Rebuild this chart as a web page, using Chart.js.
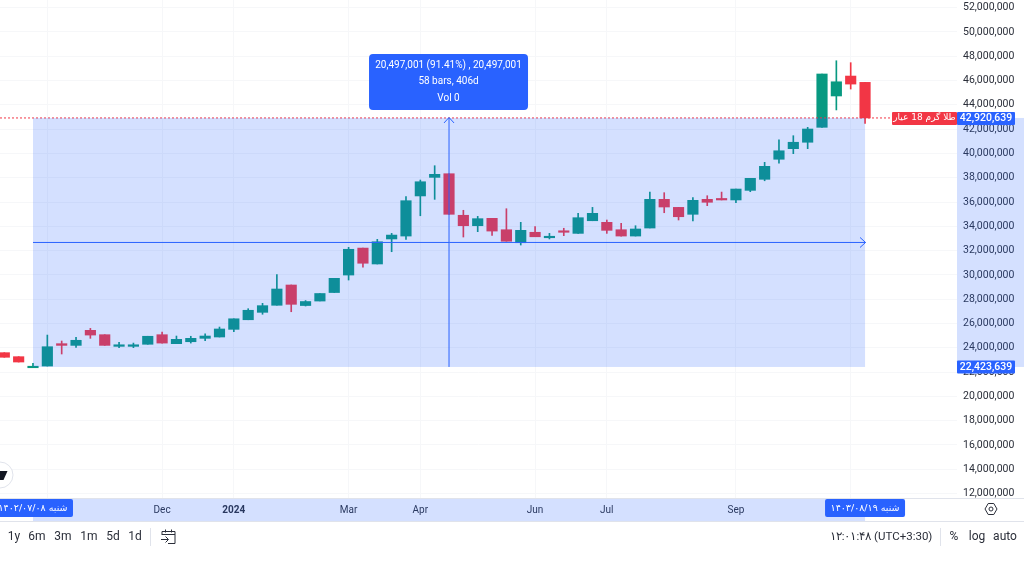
<!DOCTYPE html>
<html lang="fa">
<head>
<meta charset="utf-8">
<title>طلا گرم 18 عیار</title>
<script src="https://cdn.jsdelivr.net/npm/chart.js@4"></script>
<style>
html,body{margin:0;padding:0;background:#fff;width:1024px;height:576px;overflow:hidden}
canvas{position:absolute;left:0;top:0}
.t{position:absolute;top:529px;font:12px/15px Roboto,sans-serif;color:#2a2e39;transform:translateX(-50%);white-space:nowrap}
.d{position:absolute;width:1px;background:#e0e3eb}
svg{position:absolute}
</style>
</head>
<body>
<canvas id="c" width="1024" height="576"></canvas>
<span class="t" style="left:14px">1y</span>
<span class="t" style="left:37px">6m</span>
<span class="t" style="left:63px">3m</span>
<span class="t" style="left:89px">1m</span>
<span class="t" style="left:113px">5d</span>
<span class="t" style="left:135px">1d</span>
<div class="d" style="left:150px;top:528px;height:18px"></div>
<svg style="left:160px;top:528px" width="17" height="17" viewBox="0 0 17 17" fill="none" stroke="#2a2e39" stroke-width="1"><path d="M2 7V3.5h13V15.5H8M2 6.5h13M5.5 1.5v3M11.5 1.5v3M1 11.5h7M5.5 8.5l3 3-3 3"/></svg>
<span class="t" style="left:881px;font-size:11.5px" dir="ltr">۱۲:۰۱:۴۸ (UTC+3:30)</span>
<div class="d" style="left:940px;top:528px;height:18px"></div>
<span class="t" style="left:954px">%</span>
<span class="t" style="left:977px">log</span>
<span class="t" style="left:1005px">auto</span>
<svg style="left:984px;top:502px" width="14" height="14" viewBox="0 0 14 14" fill="none" stroke="#2a2e39" stroke-width="1"><path d="M4.2 1.5h5.6L13 7l-3.2 5.5H4.2L1 7z" stroke-linejoin="round"/><circle cx="7" cy="7" r="2"/></svg>
<script>
const opens  = [23600000,23270000,22360000,22500000,24340000,24200000,25440000,25080000,24120000,24120000,24290000,25080000,24340000,24500000,24780000,24890000,25520000,26310000,26920000,27500000,29170000,27480000,27850000,28550000,29990000,32210000,30900000,32960000,33200000,36500000,38030000,38330000,34910000,34050000,34660000,33720000,32650000,33510000,33060000,33590000,33420000,34460000,34330000,33720000,33200000,33860000,36220000,35560000,34990000,36220000,36220000,36170000,36960000,37870000,39520000,40390000,40920000,42150000,44730000,46370000,45850000];
const highs  = [23600000,23270000,22720000,25050000,24560000,24860000,25600000,25080000,24450000,24390000,24950000,25300000,24970000,24950000,25160000,25710000,26390000,27220000,27660000,30030000,29170000,27890000,28470000,29720000,32270000,32210000,32930000,33420000,36440000,37810000,38990000,38330000,35320000,34820000,34660000,35450000,34330000,33970000,33420000,33840000,35070000,35560000,34520000,34250000,34050000,36820000,36770000,35560000,36360000,36520000,36820000,37070000,37950000,39270000,41110000,41460000,42150000,46540000,47630000,47470000,45850000];
const lows   = [23220000,22830000,22360000,22500000,23490000,24040000,24780000,24200000,24020000,24010000,24290000,24390000,24340000,24390000,24580000,24890000,25320000,26310000,26760000,27500000,26970000,27440000,27850000,28550000,29580000,30630000,30900000,31910000,32930000,34870000,36220000,34990000,33120000,33560000,33260000,32770000,32460000,33140000,32960000,33230000,33420000,34460000,33420000,33200000,33200000,33860000,35120000,34520000,34440000,35700000,36170000,35940000,36850000,37750000,39190000,39980000,40390000,42150000,43580000,45300000,42480000];
const closes = [23220000,22830000,22420000,24090000,24200000,24620000,25050000,24200000,24250000,24250000,24950000,24390000,24700000,24780000,24970000,25550000,26390000,27090000,27470000,28840000,27580000,27810000,28470000,29720000,32110000,30960000,32730000,33280000,36110000,37670000,38280000,34990000,34050000,34630000,33610000,32770000,33670000,33140000,33140000,33510000,34710000,35070000,33670000,33200000,33780000,36220000,35590000,34790000,36140000,35980000,36170000,37070000,37950000,38940000,40220000,40920000,42010000,46540000,45900000,45710000,42920639];
const priceTicks = [12000000,14000000,16000000,18000000,20000000,22000000,24000000,26000000,28000000,30000000,32000000,34000000,36000000,38000000,40000000,42000000,44000000,46000000,48000000,50000000,52000000];
const timeTickBars = [3,11,16,24,29,37,42,51,59];
const timeTickLabels = ['','Dec','2024','Mar','Apr','Jun','Jul','Sep',''];
const measureStartBar = 2, measureEndBar = 60, measureMidBar = 31;
const measureLow = 22423639, measureHigh = 42920639;
const symbolName = 'طلا گرم 18 عیار';
const startDate = '۱۴۰۲/۰۷/۰۸ شنبه', endDate = '۱۴۰۳/۰۸/۱۹ شنبه';
const infoLines = ['20,497,001 (91.41%) , 20,497,001','58 bars, 406d','Vol 0'];

const UP='#089981', DOWN='#f23645', BLUE='#2962ff', INK='#2a2e39';
const FONT='Roboto, sans-serif';
const fmt = v => Math.round(v).toLocaleString('en-US');
const colors = closes.map((c,i)=> c>=opens[i] ? UP : DOWN);

function box(ctx,x,y,w,h,r,fill){ctx.beginPath();ctx.roundRect(x,y,w,h,r);ctx.fillStyle=fill;ctx.fill();}
function label(ctx,txt,x,y,font,col,dir){ctx.font=font;ctx.fillStyle=col;ctx.textAlign='center';ctx.textBaseline='middle';ctx.direction=dir||'ltr';ctx.fillText(txt,x,y);ctx.direction='ltr';}

const tool = {
  id:'tool',
  afterDraw(chart){
    const {ctx,scales:{x,y},chartArea:a}=chart;
    const L=x.getPixelForValue(measureStartBar),R=x.getPixelForValue(measureEndBar),M=x.getPixelForValue(measureMidBar);
    const T=y.getPixelForValue(measureHigh),B=y.getPixelForValue(measureLow),C=(T+B)/2;
    ctx.save();
    ctx.strokeStyle=DOWN;ctx.lineWidth=1;ctx.setLineDash([2,2]);
    ctx.beginPath();ctx.moveTo(0,T);ctx.lineTo(a.right,T);ctx.stroke();ctx.setLineDash([]);
    ctx.fillStyle='rgba(41,98,255,0.2)';
    ctx.fillRect(L,T,R-L,B-T);
    ctx.fillRect(L,a.bottom,R-L,22);
    ctx.fillRect(a.right,T,1024-a.right,B-T);
    ctx.strokeStyle=BLUE;ctx.lineWidth=1;
    ctx.beginPath();
    ctx.moveTo(L,C);ctx.lineTo(R+.5,C);ctx.moveTo(R-5,C-5);ctx.lineTo(R+.5,C);ctx.lineTo(R-5,C+5);
    ctx.moveTo(M,B);ctx.lineTo(M,T);ctx.moveTo(M-5,T+5);ctx.lineTo(M,T-.5);ctx.lineTo(M+5,T+5);
    ctx.stroke();
    box(ctx,M-80,54,159,56,4,BLUE);
    const ys=[65,81,98];
    infoLines.forEach((s,i)=>label(ctx,s,M-.5,ys[i],'10px '+FONT,'#fff'));
    box(ctx,L-40,a.bottom,80,18,2,BLUE);
    label(ctx,startDate,L,a.bottom+9.5,'9.5px "DejaVu Sans"','#fff');
    box(ctx,R-40,a.bottom,80,18,2,BLUE);
    label(ctx,endDate,R,a.bottom+9.5,'9.5px "DejaVu Sans"','#fff');
    box(ctx,892,T-6,65,13,1,DOWN);
    label(ctx,symbolName,924.5,T,'9px "DejaVu Sans"','#fff','rtl');
    box(ctx,a.right,T-6,58,13,1,BLUE);
    label(ctx,fmt(measureHigh),a.right+29,T+.5,'500 10.5px '+FONT,'#fff');
    box(ctx,a.right,B-6.5,58,13,1,BLUE);
    label(ctx,fmt(measureLow),a.right+29,B+.5,'500 10.5px '+FONT,'#fff');
    ctx.strokeStyle='#e0e3eb';
    ctx.beginPath();ctx.moveTo(0,a.bottom-.5);ctx.lineTo(1024,a.bottom-.5);ctx.moveTo(0,a.bottom+22.5);ctx.lineTo(1024,a.bottom+22.5);ctx.stroke();
    ctx.beginPath();ctx.arc(0,475,13,0,Math.PI*2);ctx.fillStyle='#fff';ctx.fill();ctx.strokeStyle='#e0e3eb';ctx.stroke();
    ctx.beginPath();ctx.moveTo(0,471);ctx.lineTo(7.5,471);ctx.lineTo(3.5,480);ctx.lineTo(0,480);ctx.closePath();ctx.fillStyle='#131722';ctx.fill();
    ctx.restore();
  }
};

new Chart(document.getElementById('c'),{
  type:'bar',
  data:{datasets:[
    {label:'wick',data:closes.map((_,i)=>({x:i,y:[lows[i],highs[i]]})),backgroundColor:colors,barThickness:1,order:2,minBarLength:0},
    {label:'body',data:closes.map((c,i)=>({x:i,y:[opens[i],c]})),backgroundColor:colors,barThickness:10.5,order:1,minBarLength:1.5}
  ]},
  options:{
    responsive:false,animation:false,events:[],
    layout:{autoPadding:false,padding:{left:0,right:0,top:0,bottom:55}},
    plugins:{legend:{display:false},tooltip:{enabled:false}},
    datasets:{bar:{grouped:false,borderWidth:0,borderSkipped:false}},
    scales:{
      x:{type:'linear',offset:false,min:-0.3,max:66.41,
        border:{display:false},
        grid:{color:'#f6f7f9',offset:false,drawTicks:false},
        afterBuildTicks(s){s.ticks=timeTickBars.map(value=>({value}));},
        afterFit(s){s.height=22;s.paddingLeft=0;s.paddingRight=0;},
        ticks:{autoSkip:false,maxRotation:0,padding:5,color:INK,
          font:c=>({family:FONT,size:10,weight:c.tick&&timeTickLabels[timeTickBars.indexOf(c.tick.value)]==='2024'?'bold':'normal'}),
          callback:v=>timeTickLabels[timeTickBars.indexOf(v)]}
      },
      y:{type:'linear',position:'right',min:11555000,max:52630000,
        border:{display:false},
        grid:{color:'#f6f7f9',drawTicks:false},
        afterBuildTicks(s){s.ticks=priceTicks.map(value=>({value}));},
        afterFit(s){s.width=67;s.paddingTop=0;s.paddingBottom=0;},
        ticks:{autoSkip:false,padding:6,color:INK,font:{family:FONT,size:10.5},callback:v=>fmt(v)}
      }
    }
  },
  plugins:[tool]
});
</script>
</body>
</html>
